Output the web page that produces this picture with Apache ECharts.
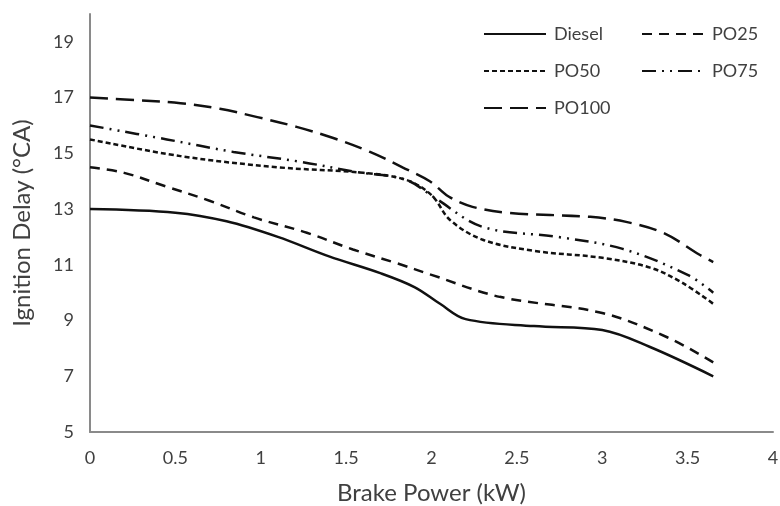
<!DOCTYPE html>
<html><head><meta charset="utf-8">
<script src="https://cdn.jsdelivr.net/npm/echarts@6/dist/echarts.min.js"></script>
<style>html,body{margin:0;padding:0;background:#fff}#c{width:780px;height:506px}</style>
</head><body><div id="c"></div>
<script>
const dieselX = [0, 0.5, 0.8, 1.1, 1.4, 1.7, 1.9, 2.05, 2.2, 2.6, 3.0, 3.28, 3.65];
const dieselY = [13.0, 12.87, 12.56, 12.0, 11.3, 10.7, 10.2, 9.6, 9.05, 8.8, 8.66, 8.05, 7.0];
const po25X = [0, 0.2, 0.45, 0.7, 0.96, 1.27, 1.54, 1.8, 2.0, 2.4, 3.0, 3.38, 3.65];
const po25Y = [14.5, 14.3, 13.8, 13.3, 12.7, 12.15, 11.55, 11.05, 10.64, 9.85, 9.27, 8.4, 7.5];
const po50X = [0, 0.53, 1.1, 1.6, 1.85, 2.0, 2.11, 2.3, 2.6, 3.0, 3.28, 3.47, 3.65];
const po50Y = [15.5, 14.9, 14.5, 14.3, 14.05, 13.5, 12.6, 11.9, 11.5, 11.25, 10.9, 10.35, 9.6];
const po75X = [0, 0.45, 0.84, 1.23, 1.56, 1.85, 2.02, 2.3, 2.74, 3.12, 3.5, 3.65];
const po75Y = [16.0, 15.5, 15.05, 14.7, 14.33, 14.05, 13.4, 12.36, 12.0, 11.57, 10.64, 10.0];
const po100X = [0, 0.29, 0.53, 0.76, 0.98, 1.21, 1.42, 1.64, 1.83, 1.99, 2.1, 2.24, 2.46, 2.93, 3.14, 3.36, 3.57, 3.65];
const po100Y = [17.0, 16.9, 16.8, 16.6, 16.3, 15.95, 15.56, 15.05, 14.5, 14.0, 13.45, 13.08, 12.86, 12.72, 12.54, 12.14, 11.36, 11.1];
const yTicks = [5, 7, 9, 11, 13, 15, 17, 19];
const xTicks = [0, 0.5, 1, 1.5, 2, 2.5, 3, 3.5, 4];

function pts(xs, ys) { return xs.map((x, i) => [x, ys[i]]); }
const font = 'Lato, "Open Sans", sans-serif';
const txt = '#404040';
function ser(name, xs, ys, type) {
  return {name, type: 'line', data: pts(xs, ys), smooth: 0.35, symbol: 'none',
    lineStyle: {color: '#111', width: 2.5, type}, itemStyle: {color: '#111', opacity: 0}};
}
const legendCommon = {orient: 'vertical', top: 20, itemWidth: 62, itemHeight: 18, itemGap: 19,
  itemStyle: {opacity: 0},
  textStyle: {color: txt, fontSize: 18, lineHeight: 18, fontFamily: font, padding: [0, 0, 0, 3]}};
const chart = echarts.init(document.getElementById('c'), null, {renderer: 'canvas'});
chart.setOption({
  animation: false,
  backgroundColor: '#fff',
  textStyle: {fontFamily: font},
  grid: {left: 90, right: 7, top: 14, bottom: 74, containLabel: false, outerBoundsMode: 'none'},
  xAxis: {
    type: 'value', min: 0, max: 4, interval: 0.5,
    axisLine: {lineStyle: {color: '#8a8a8a', width: 2}},
    axisTick: {show: false}, splitLine: {show: false},
    axisLabel: {color: txt, fontSize: 18, fontFamily: font, margin: 17,
      formatter: v => xTicks.includes(v) ? String(v) : ''},
    name: 'Brake Power (kW)', nameLocation: 'middle', nameGap: 49,
    nameTextStyle: {color: txt, fontSize: 24, fontFamily: font}
  },
  yAxis: {
    type: 'value', min: 5, max: 20, interval: 1,
    axisLine: {show: true, lineStyle: {color: '#8a8a8a', width: 2}},
    axisTick: {show: false}, splitLine: {show: false},
    axisLabel: {color: txt, fontSize: 18, fontFamily: font, margin: 16,
      formatter: v => yTicks.includes(v) ? String(v) : ''},
    name: 'Ignition Delay (°CA)', nameLocation: 'middle', nameGap: 56,
    nameTextStyle: {color: txt, fontSize: 24, fontFamily: font}
  },
  legend: [
    Object.assign({data: ['Diesel', 'PO50', 'PO100'], left: 478}, legendCommon),
    Object.assign({data: ['PO25', 'PO75'], left: 636}, legendCommon)
  ],
  series: [
    ser('Diesel', dieselX, dieselY, 'solid'),
    ser('PO25', po25X, po25Y, [10, 7]),
    ser('PO50', po50X, po50Y, [5, 3]),
    ser('PO75', po75X, po75Y, [14, 6, 2, 6, 2, 6]),
    ser('PO100', po100X, po100Y, [18, 8])
  ]
});
</script></body></html>
